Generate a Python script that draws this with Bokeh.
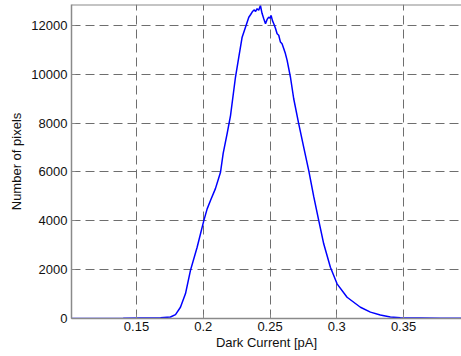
from bokeh.plotting import figure
from bokeh.models import Range1d, FixedTicker, Span
from bokeh.embed import file_html
from bokeh.resources import INLINE

# Dark current histogram
current_pA = [0.1000, 0.1230, 0.1400, 0.1530, 0.1680, 0.1754, 0.1792, 0.1829, 0.1867,
              0.1904, 0.1954, 0.2004, 0.2029, 0.2054, 0.2091, 0.2129, 0.2149, 0.2179,
              0.2204, 0.2241, 0.2266, 0.2291, 0.2316, 0.2341, 0.2355, 0.2366, 0.2380,
              0.2392, 0.2403, 0.2415, 0.2428, 0.2440, 0.2453, 0.2466, 0.2478, 0.2490,
              0.2500, 0.2508, 0.2518, 0.2528, 0.2540, 0.2553, 0.2565, 0.2578, 0.2590,
              0.2603, 0.2615, 0.2628, 0.2653, 0.2677, 0.2715, 0.2752, 0.2790, 0.2827,
              0.2865, 0.2902, 0.2952, 0.3002, 0.3077, 0.3177, 0.3252, 0.3326, 0.3401,
              0.3476, 0.3626, 0.3775, 0.3900, 0.3960]
pixel_count = [0, 0, 10, 20, 30, 60, 160, 460, 1020,
               1970, 2920, 4010, 4490, 4830, 5320, 5990, 6760, 7580,
               8310, 9880, 10700, 11520, 11930, 12340, 12450, 12550, 12640,
               12580, 12690, 12620, 12820, 12500, 12280, 12070, 12250, 12340,
               12300, 12410, 12200, 12070, 11900, 11660, 11600, 11320, 11250,
               11050, 10850, 10570, 9880, 9010, 7970, 7020, 6060, 5000,
               4010, 3060, 2100, 1420, 870, 460, 260, 140, 60,
               30, 20, 10, 8, 5]

x_ticks = [0.15, 0.2, 0.25, 0.3, 0.35]
x_tick_labels = ["0.15", "0.2", "0.25", "0.3", "0.35"]
y_ticks = [0, 2000, 4000, 6000, 8000, 10000, 12000]

FONT = "Liberation Sans"

p = figure(width=461, height=356, output_backend="svg", toolbar_location=None,
           x_range=Range1d(0.1013, 0.3934), y_range=Range1d(0, 12860),
           min_border_left=71, min_border_right=0, min_border_top=4, min_border_bottom=38)

p.line(current_pA, pixel_count, line_color="#0000ff", line_width=1.5)

p.outline_line_color = None
p.background_fill_color = "white"
p.border_fill_color = "white"

for ax in (p.xaxis, p.yaxis):
    ax.axis_line_color = "#8a8a8a"
    ax.axis_line_width = 1.5
    ax.major_tick_in = 4
    ax.major_tick_out = 0
    ax.major_tick_line_color = "#8a8a8a"
    ax.minor_tick_line_color = None
    ax.major_label_text_font = FONT
    ax.major_label_text_font_size = "13px"
    ax.major_label_text_color = "#111111"
    ax.axis_label_text_font = FONT
    ax.axis_label_text_font_size = "13px"
    ax.axis_label_text_font_style = "normal"
    ax.axis_label_text_color = "#111111"

p.xaxis.ticker = FixedTicker(ticks=x_ticks)
p.xaxis.major_label_overrides = {t: l for t, l in zip(x_ticks, x_tick_labels)}
p.xaxis.major_label_standoff = 3
p.xaxis.axis_label = "Dark Current [pA]"
p.xaxis.axis_label_standoff = 1

p.yaxis.ticker = FixedTicker(ticks=y_ticks)
p.yaxis.major_label_overrides = {t: str(t) for t in y_ticks}
p.yaxis.major_label_standoff = 4
p.yaxis.axis_label = "Number of pixels"
p.yaxis.axis_label_standoff = 4

for g in (p.xgrid, p.ygrid):
    g.grid_line_color = "#6e6e6e"
    g.grid_line_dash = "9 5"
    g.grid_line_width = 1
p.xgrid.ticker = FixedTicker(ticks=x_ticks)
p.ygrid.ticker = FixedTicker(ticks=y_ticks)

p.add_layout(Span(location=12860, dimension="width", line_color="#8a8a8a", line_width=2))

open("out.html", "w").write(file_html(p, INLINE))
